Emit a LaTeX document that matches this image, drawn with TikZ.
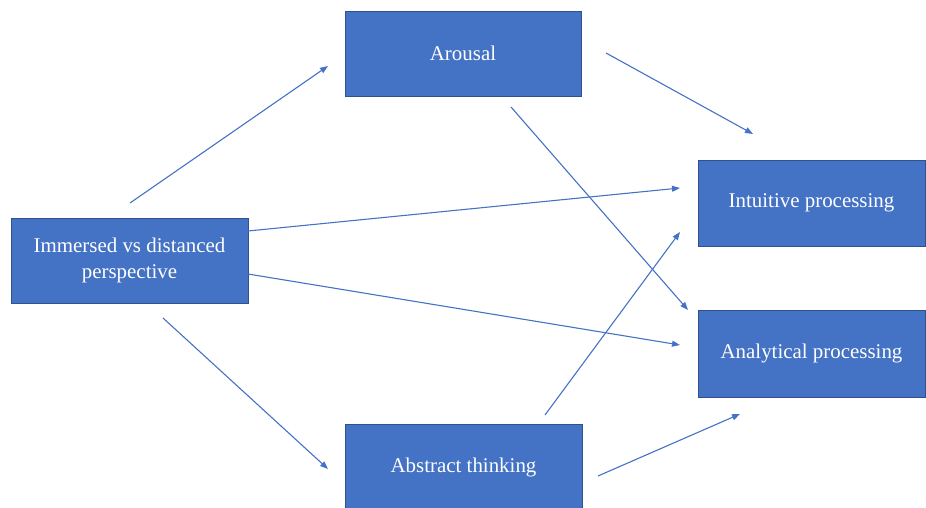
\documentclass[tikz,border=0pt]{standalone}
\usepackage{fontspec}
\setmainfont{Liberation Serif}
\usetikzlibrary{arrows.meta}
\definecolor{boxblue}{HTML}{4472C4}
\definecolor{boxedge}{HTML}{2F528F}
\begin{document}
\begin{tikzpicture}[x=1bp,y=-1bp,
  box/.style={draw=boxedge,line width=0.8bp,fill=boxblue,text=white,align=center,inner sep=0pt,font=\fontsize{21}{27}\selectfont},
  conn/.style={draw=boxblue,line width=1.1bp,-{Triangle[length=8bp,width=6bp]}}]
\useasboundingbox (0,0) rectangle (926,508);
\node[box,minimum width=236bp,minimum height=85bp] (ar) at (463,53.5) {Arousal};
\node[box,minimum width=237bp,minimum height=85bp] (im) at (129.5,260.5) {Immersed vs distanced\\perspective};
\node[box,minimum width=237bp,minimum height=85bp] (ab) at (463.5,467) {Abstract thinking};
\node[box,minimum width=227bp,minimum height=86bp] (in) at (811.5,203) {Intuitive processing};
\node[box,minimum width=227bp,minimum height=87bp] (an) at (811.5,353.5) {Analytical processing};
\coordinate (a1s) at (130,203); \coordinate (a1e) at (328,66);
\coordinate (a2s) at (163,318); \coordinate (a2e) at (328,469);
\coordinate (a3s) at (248,231); \coordinate (a3e) at (680,188);
\coordinate (a4s) at (248,274); \coordinate (a4e) at (680,345);
\coordinate (a5s) at (606,53);  \coordinate (a5e) at (753,134);
\coordinate (a6s) at (511,107); \coordinate (a6e) at (688,310);
\coordinate (a7s) at (545,415); \coordinate (a7e) at (680,232);
\coordinate (a8s) at (598,476); \coordinate (a8e) at (740,414);
\draw[conn] (a1s) -- (a1e);
\draw[conn] (a2s) -- (a2e);
\draw[conn] (a3s) -- (a3e);
\draw[conn] (a4s) -- (a4e);
\draw[conn] (a5s) -- (a5e);
\draw[conn] (a6s) -- (a6e);
\draw[conn] (a7s) -- (a7e);
\draw[conn] (a8s) -- (a8e);
\end{tikzpicture}
\end{document}
